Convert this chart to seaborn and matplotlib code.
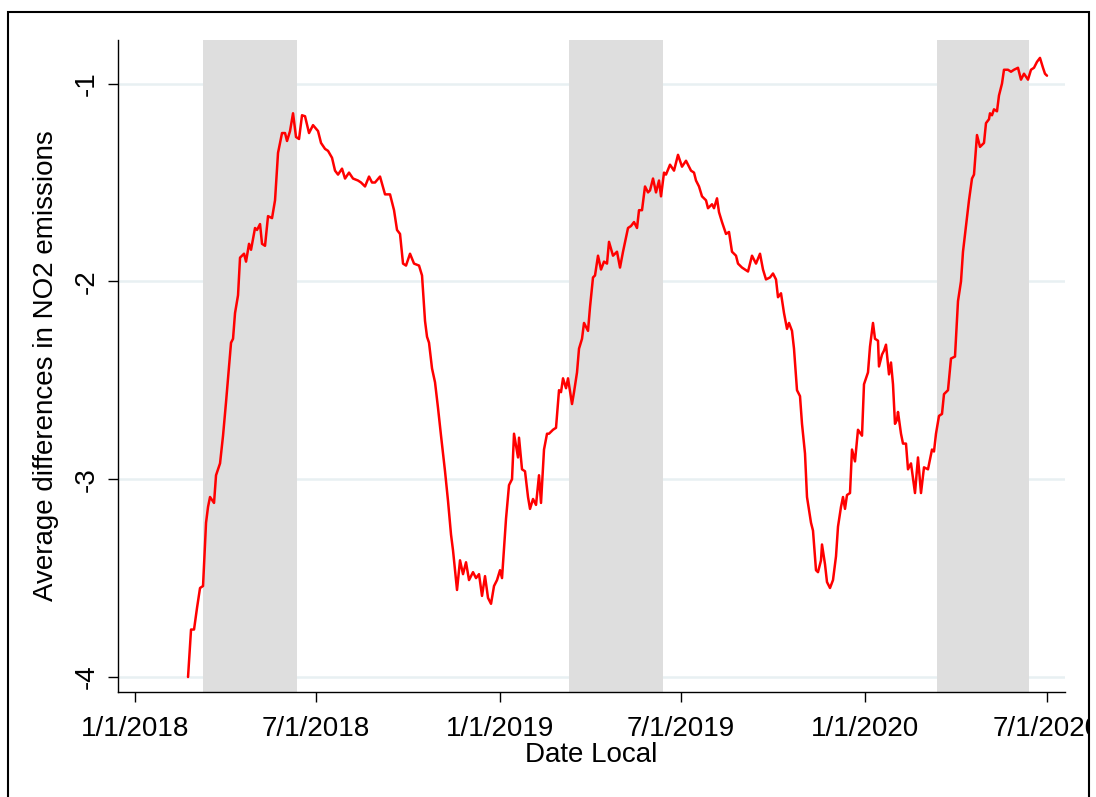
import matplotlib
matplotlib.use("Agg")
import matplotlib.pyplot as plt
import seaborn as sns
import pandas as pd
from matplotlib.patches import Rectangle

# days since 1/1/2018 and the smoothed NO2 difference
day_offset = [
    53, 56, 59, 62, 65, 68, 71, 73, 75, 79, 81, 85, 88, 91, 96, 98, 100, 103,
    105, 109, 111, 114, 116, 120, 122, 125, 127, 130, 133, 137, 140, 143, 147,
    150, 152, 155, 158, 161, 164, 167, 170, 174, 178, 183, 186, 190, 193, 197,
    200, 203, 207, 210, 214, 218, 223, 226, 230, 234, 237, 240, 245, 250, 255,
    259, 262, 265, 268, 271, 275, 279, 284, 287, 290, 292, 294, 297, 300, 303,
    306, 310, 313, 316, 318, 322, 325, 328, 331, 334, 338, 341, 344, 347, 350,
    353, 356, 359, 362, 365, 367, 371, 374, 377, 379, 383, 384, 387, 390, 393,
    395, 398, 401, 404, 406, 409, 412, 414, 418, 421, 424, 426, 428, 431, 433,
    437, 439, 442, 444, 447, 449, 453, 455, 458, 460, 463, 466, 469, 472, 474,
    478, 482, 485, 488, 493, 496, 499, 502, 504, 507, 510, 513, 515, 518, 521,
    524, 526, 529, 531, 535, 539, 543, 547, 551, 556, 559, 561, 564, 567, 571,
    573, 577, 579, 582, 584, 587, 591, 594, 597, 601, 603, 607, 610, 613, 617,
    621, 625, 628, 631, 635, 638, 641, 643, 646, 649, 652, 654, 657, 659, 662,
    665, 667, 670, 672, 676, 678, 681, 683, 686, 687, 690, 692, 695, 698, 701,
    703, 706, 708, 710, 712, 715, 717, 720, 723, 727, 729, 733, 735, 738, 740,
    743, 744, 747, 749, 751, 754, 756, 758, 760, 762, 763, 766, 768, 771, 773,
    776, 780, 783, 786, 789, 793, 797, 799, 801, 804, 807, 809, 813, 816, 820,
    823, 826, 828, 831, 834, 837, 839, 842, 845, 849, 851, 854, 855, 857, 859,
    862, 864, 867, 869, 873, 876, 879, 883, 886, 889, 893, 896, 899, 902, 905,
    908, 910, 912,
]
no2_diff = [
    -4.00, -3.76, -3.76, -3.65, -3.55, -3.54, -3.22, -3.14, -3.09, -3.12, -2.98,
    -2.92, -2.78, -2.61, -2.31, -2.29, -2.16, -2.07, -1.88, -1.86, -1.90, -1.81,
    -1.84, -1.73, -1.74, -1.71, -1.81, -1.82, -1.67, -1.68, -1.59, -1.35, -1.25,
    -1.25, -1.29, -1.24, -1.15, -1.27, -1.28, -1.16, -1.165, -1.25, -1.21, -1.24,
    -1.30, -1.33, -1.34, -1.375, -1.44, -1.46, -1.43, -1.48, -1.45, -1.48, -1.49,
    -1.50, -1.52, -1.47, -1.50, -1.50, -1.47, -1.56, -1.56, -1.64, -1.74, -1.76,
    -1.91, -1.92, -1.86, -1.91, -1.92, -1.97, -2.20, -2.28, -2.31, -2.44, -2.51,
    -2.64, -2.78, -2.96, -3.11, -3.28, -3.36, -3.56, -3.41, -3.48, -3.42, -3.51,
    -3.47, -3.50, -3.48, -3.59, -3.49, -3.60, -3.63, -3.54, -3.51, -3.46, -3.50,
    -3.20, -3.03, -3.00, -2.77, -2.89, -2.79, -2.95, -2.96, -3.09, -3.15, -3.10,
    -3.13, -2.98, -3.12, -2.85, -2.77, -2.77, -2.75, -2.74, -2.55, -2.56, -2.49,
    -2.54, -2.49, -2.62, -2.56, -2.46, -2.34, -2.29, -2.21, -2.25, -2.13, -1.98,
    -1.97, -1.87, -1.94, -1.90, -1.91, -1.80, -1.87, -1.85, -1.93, -1.85, -1.73,
    -1.72, -1.70, -1.73, -1.64, -1.64, -1.52, -1.55, -1.54, -1.48, -1.55, -1.49,
    -1.57, -1.45, -1.46, -1.41, -1.44, -1.36, -1.42, -1.39, -1.44, -1.45, -1.49,
    -1.52, -1.57, -1.59, -1.63, -1.61, -1.63, -1.58, -1.65, -1.70, -1.76, -1.75,
    -1.85, -1.87, -1.91, -1.93, -1.94, -1.95, -1.87, -1.91, -1.86, -1.94, -1.99,
    -1.98, -1.96, -1.99, -2.08, -2.06, -2.16, -2.24, -2.21, -2.25, -2.34, -2.55,
    -2.58, -2.72, -2.87, -3.09, -3.22, -3.26, -3.46, -3.47, -3.41, -3.33, -3.43,
    -3.52, -3.55, -3.51, -3.39, -3.24, -3.14, -3.09, -3.15, -3.08, -3.07, -2.85,
    -2.91, -2.75, -2.78, -2.52, -2.46, -2.33, -2.21, -2.29, -2.30, -2.43, -2.37,
    -2.35, -2.32, -2.47, -2.41, -2.52, -2.72, -2.70, -2.66, -2.77, -2.82, -2.82,
    -2.95, -2.92, -3.07, -2.89, -3.07, -2.94, -2.95, -2.85, -2.86, -2.77, -2.68,
    -2.67, -2.57, -2.55, -2.39, -2.38, -2.10, -2.00, -1.85, -1.72, -1.59, -1.48,
    -1.46, -1.26, -1.32, -1.30, -1.20, -1.18, -1.15, -1.16, -1.13, -1.14, -1.06,
    -1.00, -0.93, -0.93, -0.94, -0.93, -0.92, -0.98, -0.95, -0.98, -0.93, -0.92,
    -0.89, -0.87, -0.92, -0.95, -0.96,
]

# shaded spring periods
spring_start = ["2018-03-10", "2019-03-11", "2020-03-13"]
spring_end = ["2018-06-12", "2019-06-13", "2020-06-13"]

xtick_dates = ["2018-01-01", "2018-07-01", "2019-01-01", "2019-07-01", "2020-01-01", "2020-07-01"]
xtick_labels = ["1/1/2018", "7/1/2018", "1/1/2019", "7/1/2019", "1/1/2020", "7/1/2020"]
yticks = [-1, -2, -3, -4]
ytick_labels = ["-1", "-2", "-3", "-4"]

df = pd.DataFrame({
    "date": pd.Timestamp("2018-01-01") + pd.to_timedelta(day_offset, unit="D"),
    "no2": no2_diff,
})

sns.set_style("white")
plt.rcParams["font.family"] = ["Liberation Sans", "DejaVu Sans"]

fig = plt.figure(figsize=(10.96, 7.97), dpi=100)
ax = fig.add_axes([0.1077, 0.1317, 0.864, 0.818])

# horizontal grid (under the shading, like the original)
for y in yticks:
    ax.axhline(y, color="#e8f0f2", lw=1.8, zorder=0)

for s, e in zip(spring_start, spring_end):
    ax.axvspan(pd.Timestamp(s), pd.Timestamp(e), color="#dedede", lw=0, zorder=1)

sns.lineplot(data=df, x="date", y="no2", color="red", lw=1.8, ax=ax, zorder=3)

ax.set_xlim(pd.Timestamp("2017-12-15"), pd.Timestamp("2020-07-19"))
ax.set_ylim(-4.076, -0.78)

ax.set_xticks(pd.to_datetime(xtick_dates))
ax.set_xticklabels(xtick_labels)
ax.set_yticks(yticks)
ax.set_yticklabels(ytick_labels, rotation=90, va="center")
ax.tick_params(bottom=True, left=True, direction="out", length=7, width=1,
               color="black", labelsize=20, labelcolor="black")
ax.tick_params(axis="x", pad=10)
ax.tick_params(axis="y", pad=6)

ax.set_xlabel("Date Local", fontsize=20, labelpad=0, color="black")
ax.set_ylabel("Average differences in NO2 emissions", fontsize=20, labelpad=11, color="black")

for side in ["top", "right"]:
    ax.spines[side].set_visible(False)
for side in ["left", "bottom"]:
    ax.spines[side].set_color("black")
    ax.spines[side].set_linewidth(1)

# outer frame, cut off at the right edge like the source image
fig.add_artist(Rectangle((1089 / 1096, 0), 1, 1, transform=fig.transFigure,
                         color="white", zorder=10))
fig.add_artist(Rectangle((8 / 1096, -0.02), 1081 / 1096, 1.02 - 12 / 797,
                         transform=fig.transFigure, fill=False,
                         edgecolor="black", lw=1.5, zorder=11))

fig.savefig("out.png", dpi=100)
